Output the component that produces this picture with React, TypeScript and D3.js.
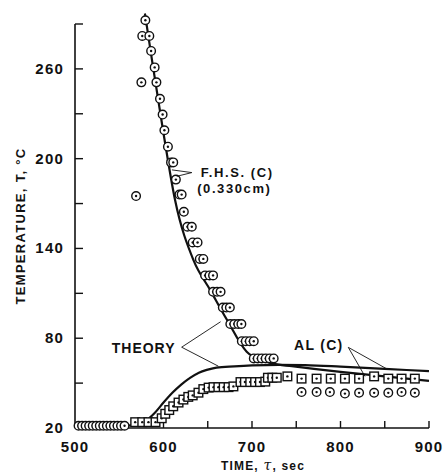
import React, { useEffect, useRef } from "react";
import * as d3 from "d3";

// F.H.S. (C) specimen, circles: time (sec), temperature (°C)
const fhsTime = [504, 508, 512, 516, 520, 524, 528, 532, 536, 540, 544, 548, 552, 556,
  569, 575, 576, 579.5, 584, 586, 590, 592, 596, 599, 601, 605, 608.5, 611, 614, 618, 620.5,
  623, 627, 632, 633, 638.5, 641, 645, 647, 652, 656, 656, 660.5, 664.5, 667, 671, 675,
  675.5, 680, 684.5, 688, 688.5, 693, 697.5, 702, 702, 706.5, 711, 715.5, 720, 724.5,
  756, 773, 788, 805, 821, 838, 854, 869, 884];
const fhsTemp = [21.5, 21.5, 21.5, 21.5, 21.5, 21.5, 21.5, 21.5, 21.5, 21.5, 21.5, 21.5, 21.5, 21.5,
  175, 251, 282, 292.5, 282, 272, 261, 251, 240, 229.5, 219, 208, 197.5, 197.5, 186, 176, 176,
  164.5, 154.5, 154.5, 144, 144, 133, 133, 122, 122, 122, 111, 111, 111, 100.5, 100.5, 100.5,
  89.5, 89.5, 89.5, 89.5, 78, 78, 78, 78, 66.5, 66.5, 66.5, 66.5, 66.5, 66.5,
  44, 44, 44, 43, 43.5, 43.5, 43.5, 44, 43.5];

// AL (C) specimen, squares
const alTime = [568, 576, 583, 591, 598, 602, 606.5, 611, 617, 622.5, 628, 633, 639.5, 645, 651,
  656.5, 662, 668, 673.5, 679, 687, 692, 698, 703.5, 709, 715, 718, 723, 728,
  740, 756, 773, 789, 805, 821, 838, 854, 869, 884];
const alTemp = [23.9, 23.9, 23.9, 23.9, 26.5, 29.5, 32, 34.5, 37, 39, 40.8, 41.8, 43.6, 46, 47,
  47.3, 47.3, 47.3, 47.3, 47.8, 50.7, 50.7, 50.7, 50.7, 50.7, 51, 53.6, 53.6, 53.6,
  54.5, 53, 53, 53, 53, 53, 54.5, 53, 53, 53];

// theory curves
const fhsTheoryTime = [579, 588, 600, 613, 634, 653, 672, 694, 710, 724, 745, 770, 800, 850, 900];
const fhsTheoryTemp = [297, 262, 217, 172.5, 132, 112, 92, 71, 65.5, 63, 61.3, 59.5, 57.5, 54.5, 51.5];
const alTheoryTime = [556, 568, 578, 590, 600, 610, 620, 630, 640, 650, 660, 680, 700, 730, 760, 800, 850, 900];
const alTheoryTemp = [21.5, 22.3, 24, 30, 37, 43.5, 49, 53.5, 57, 59, 60.4, 61.2, 61.8, 62.2, 62, 61, 59.5, 58];

const xTicks = [500, 550, 600, 650, 700, 750, 800, 850, 900];
const xTickLabels = [500, 600, 700, 800, 900];
const yTicks = [20, 50, 80, 110, 140, 170, 200, 230, 260];
const yTickLabels = [20, 80, 140, 200, 260];

const W = 444;
const H = 473;
const FONT = "'Liberation Sans', Arial, Helvetica, sans-serif";

export default function App() {
  const ref = useRef<SVGSVGElement>(null);

  useEffect(() => {
    const svg = d3.select(ref.current);
    svg.selectAll("*").remove();

    const x = d3.scaleLinear().domain([500, 900]).range([75, 429]);
    const y = d3.scaleLinear().domain([20, 290]).range([428, 24]);
    const ink = "#111";

    const g = svg.append("g");

    // axes
    g.append("line").attr("x1", x(500)).attr("x2", x(500)).attr("y1", y(290)).attr("y2", y(20))
      .attr("stroke", ink).attr("stroke-width", 1.6);
    g.append("line").attr("x1", x(500)).attr("x2", x(900)).attr("y1", y(20)).attr("y2", y(20))
      .attr("stroke", ink).attr("stroke-width", 1.6);
    g.append("line").attr("x1", x(500)).attr("x2", x(500) + 8).attr("y1", y(290)).attr("y2", y(290))
      .attr("stroke", ink).attr("stroke-width", 1.4);

    g.selectAll(".yt").data(yTicks.filter(d => d > 20)).enter().append("line")
      .attr("x1", x(500)).attr("x2", x(500) + 8)
      .attr("y1", d => y(d)).attr("y2", d => y(d))
      .attr("stroke", ink).attr("stroke-width", 1.4);
    g.selectAll(".xt").data(xTicks.filter(d => d > 500)).enter().append("line")
      .attr("x1", d => x(d)).attr("x2", d => x(d))
      .attr("y1", y(20)).attr("y2", y(20) - 7)
      .attr("stroke", ink).attr("stroke-width", 1.4);

    g.selectAll(".yl").data(yTickLabels).enter().append("text")
      .attr("x", x(500) - 11).attr("y", d => y(d) + 5)
      .attr("text-anchor", "end")
      .attr("font-family", FONT).attr("font-weight", "bold").attr("font-size", 15)
      .attr("letter-spacing", 1.2).attr("fill", ink)
      .text(d => d);
    g.selectAll(".xl").data(xTickLabels).enter().append("text")
      .attr("x", d => x(d)).attr("y", 452)
      .attr("text-anchor", "middle")
      .attr("font-family", FONT).attr("font-weight", "bold").attr("font-size", 15)
      .attr("letter-spacing", 1.2).attr("fill", ink)
      .text(d => d);

    // axis titles
    const xt = g.append("text").attr("x", 263).attr("y", 470).attr("text-anchor", "middle")
      .attr("font-family", FONT).attr("font-weight", "bold").attr("font-size", 12)
      .attr("letter-spacing", 1.2).attr("fill", ink);
    xt.append("tspan").text("TIME, ");
    xt.append("tspan").attr("font-style", "italic").attr("font-family", "'DejaVu Serif', serif")
      .attr("font-weight", "normal").attr("font-size", 14).text("τ");
    xt.append("tspan").text(", sec");

    g.append("text")
      .attr("transform", "translate(25,226) rotate(-90)")
      .attr("text-anchor", "middle")
      .attr("font-family", FONT).attr("font-weight", "bold").attr("font-size", 13)
      .attr("letter-spacing", 1.3).attr("fill", ink)
      .text("TEMPERATURE, T, °C");

    // theory curves
    const line = d3.line<[number, number]>()
      .x(d => x(d[0])).y(d => y(d[1]))
      .curve(d3.curveMonotoneX);
    const alTheory = alTheoryTime.map((t, i) => [t, alTheoryTemp[i]] as [number, number]);
    const fhsTheory = fhsTheoryTime.map((t, i) => [t, fhsTheoryTemp[i]] as [number, number]);
    g.append("path").attr("d", line(alTheory)).attr("fill", "none")
      .attr("stroke", ink).attr("stroke-width", 2.2);
    g.append("path").attr("d", line(fhsTheory)).attr("fill", "none")
      .attr("stroke", ink).attr("stroke-width", 2.2);

    // markers: squares (AL)
    const sq = g.selectAll(".sq").data(alTime.map((t, i) => [t, alTemp[i]])).enter().append("g")
      .attr("transform", d => `translate(${x(d[0])},${y(d[1])})`);
    sq.append("rect").attr("x", -4.3).attr("y", -4.3).attr("width", 8.6).attr("height", 8.6)
      .attr("fill", "#fff").attr("stroke", ink).attr("stroke-width", 1.4);
    sq.append("circle").attr("r", 1.2).attr("fill", ink);

    // markers: circles (F.H.S.)
    const ci = g.selectAll(".ci").data(fhsTime.map((t, i) => [t, fhsTemp[i]])).enter().append("g")
      .attr("transform", d => `translate(${x(d[0])},${y(d[1])})`);
    ci.append("circle").attr("r", 4.3).attr("fill", "#fff").attr("stroke", ink).attr("stroke-width", 1.4);
    ci.append("circle").attr("r", 1.2).attr("fill", ink);

    // annotations
    const ann = (tx: number, ty: number, txt: string, size: number, ls: number) =>
      g.append("text").attr("x", x(tx)).attr("y", y(ty))
        .attr("font-family", FONT).attr("font-weight", "bold").attr("font-size", size)
        .attr("letter-spacing", ls).attr("fill", ink).text(txt);
    const leader = (a: [number, number], b: [number, number]) =>
      g.append("line").attr("x1", x(a[0])).attr("y1", y(a[1])).attr("x2", x(b[0])).attr("y2", y(b[1]))
        .attr("stroke", ink).attr("stroke-width", 0.9);

    ann(642, 188, "F.H.S. (C)", 13, 1.6);
    ann(638, 177, "(0.330cm)", 13, 1.6);
    leader([632, 190.7], [609.5, 192.5]);
    leader([632, 190.7], [615, 188.2]);

    ann(541.5, 70, "THEORY", 14, 1);
    leader([620.5, 74], [664.5, 91]);
    leader([620.5, 74], [662, 61.3]);

    ann(747.5, 72, "AL (C)", 14, 1.3);
    leader([808.8, 73.9], [852, 59.6]);
    leader([808.8, 73.9], [827.7, 54.5]);
  }, []);

  return (
    <svg ref={ref} width={W} height={H}
      style={{ position: "absolute", left: 0, top: 0, background: "#fff" }} />
  );
}
